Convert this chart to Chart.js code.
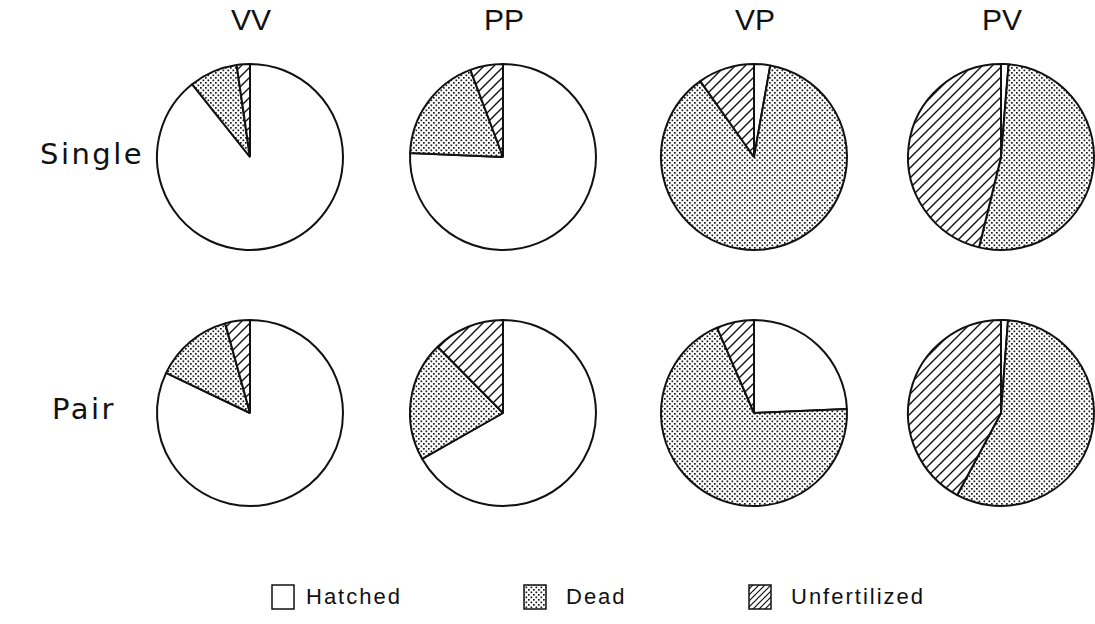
<!DOCTYPE html>
<html>
<head>
<meta charset="utf-8">
<script src="https://cdn.jsdelivr.net/npm/chart.js@4.4.0/dist/chart.umd.min.js"></script>
<style>
  html, body { margin: 0; padding: 0; background: #fff; }
  #wrap { position: relative; width: 1095px; height: 624px; overflow: hidden; background: #fff; }
  .pie { position: absolute; }
  .txt { position: absolute; font-family: "Liberation Sans", Arial, sans-serif; color: #111; white-space: nowrap; }
  .col { font-size: 30px; transform: translateX(-50%); top: 3px; }
  .row { font-family: "DejaVu Sans", sans-serif; font-size: 29px; letter-spacing: 2.5px; }
  .leg { font-size: 22px; letter-spacing: 2px; }
  .legbox { position: absolute; }
</style>
</head>
<body>
<div id="wrap"></div>
<script>
// ---- data (percent of eggs) ----
const categories = ["Hatched", "Dead", "Unfertilized"];
const columnLabels = ["VV", "PP", "VP", "PV"];
const rowLabels = ["Single", "Pair"];
const singleVV = [89.3, 8.4, 2.3];
const singlePP = [75.7, 18.6, 5.7];
const singleVP = [2.8, 87.4, 9.8];
const singlePV = [1.3, 52.5, 46.2];
const pairVV = [82.1, 13.6, 4.3];
const pairPP = [66.8, 20.8, 12.4];
const pairVP = [24.3, 69.2, 6.5];
const pairPV = [1.2, 56.6, 42.2];
const seriesGrid = [
  [singleVV, singlePP, singleVP, singlePV],
  [pairVV, pairPP, pairVP, pairPV]
];

// ---- layout ----
const colX = [250, 503, 754, 1001];
const rowY = [157, 413];
const R = 93;
const wrap = document.getElementById('wrap');

function dotPattern(ctx) {
  const t = document.createElement('canvas');
  t.width = 5; t.height = 5;
  const c = t.getContext('2d');
  c.fillStyle = '#fff'; c.fillRect(0, 0, 5, 5);
  c.fillStyle = '#1a1a1a';
  c.fillRect(0, 0, 1.7, 1.7);
  c.fillRect(2.5, 2.5, 1.7, 1.7);
  return ctx.createPattern(t, 'repeat');
}
function hatchPattern(ctx, s, lw) {
  const t = document.createElement('canvas');
  t.width = s; t.height = s;
  const c = t.getContext('2d');
  c.fillStyle = '#fff'; c.fillRect(0, 0, s, s);
  c.strokeStyle = '#111'; c.lineWidth = lw;
  c.beginPath();
  c.moveTo(-1, s + 1); c.lineTo(s + 1, -1);
  c.moveTo(-s / 2 - 1, s / 2 + 1); c.lineTo(s / 2 + 1, -s / 2 - 1);
  c.moveTo(s / 2 - 1, s * 1.5 + 1); c.lineTo(s * 1.5 + 1, s / 2 - 1);
  c.stroke();
  return ctx.createPattern(t, 'repeat');
}

function addText(cls, text, x, y) {
  const d = document.createElement('div');
  d.className = 'txt ' + cls;
  d.textContent = text;
  d.style.left = x + 'px';
  d.style.top = y + 'px';
  wrap.appendChild(d);
  return d;
}

columnLabels.forEach((t, i) => addText('col', t, colX[i] + 1, 3));
addText('row', rowLabels[0], 40, 137);
addText('row', rowLabels[1], 52, 392);

seriesGrid.forEach((row, r) => {
  row.forEach((vals, c) => {
    const cv = document.createElement('canvas');
    const S = 200;
    cv.width = S; cv.height = S;
    cv.className = 'pie';
    cv.style.left = (colX[c] - S / 2) + 'px';
    cv.style.top = (rowY[r] - S / 2) + 'px';
    wrap.appendChild(cv);
    const ctx = cv.getContext('2d');
    new Chart(ctx, {
      type: 'pie',
      data: {
        labels: categories,
        datasets: [{
          data: vals,
          backgroundColor: ['#ffffff', dotPattern(ctx), hatchPattern(ctx, 10, 1.4)],
          borderColor: '#111',
          borderWidth: 2,
          radius: R
        }]
      },
      options: {
        responsive: false,
        animation: false,
        events: [],
        layout: { padding: 0 },
        plugins: { legend: { display: false }, tooltip: { enabled: false } }
      }
    });
  });
});

// ---- legend ----
const legX = [271, 523, 748];
const legTextX = [306, 566, 791];
categories.forEach((name, i) => {
  const bc = document.createElement('canvas');
  bc.width = 24; bc.height = 26;
  bc.className = 'legbox';
  bc.style.left = legX[i] + 'px';
  bc.style.top = '584px';
  wrap.appendChild(bc);
  const c = bc.getContext('2d');
  c.fillStyle = i === 0 ? '#fff' : (i === 1 ? dotPattern(c) : hatchPattern(c, 6, 1.2));
  c.fillRect(1, 1, 22, 24);
  c.strokeStyle = '#111'; c.lineWidth = 1.5;
  c.strokeRect(1, 1, 22, 24);
  addText('leg', name, legTextX[i], 584);
});
</script>
</body>
</html>
